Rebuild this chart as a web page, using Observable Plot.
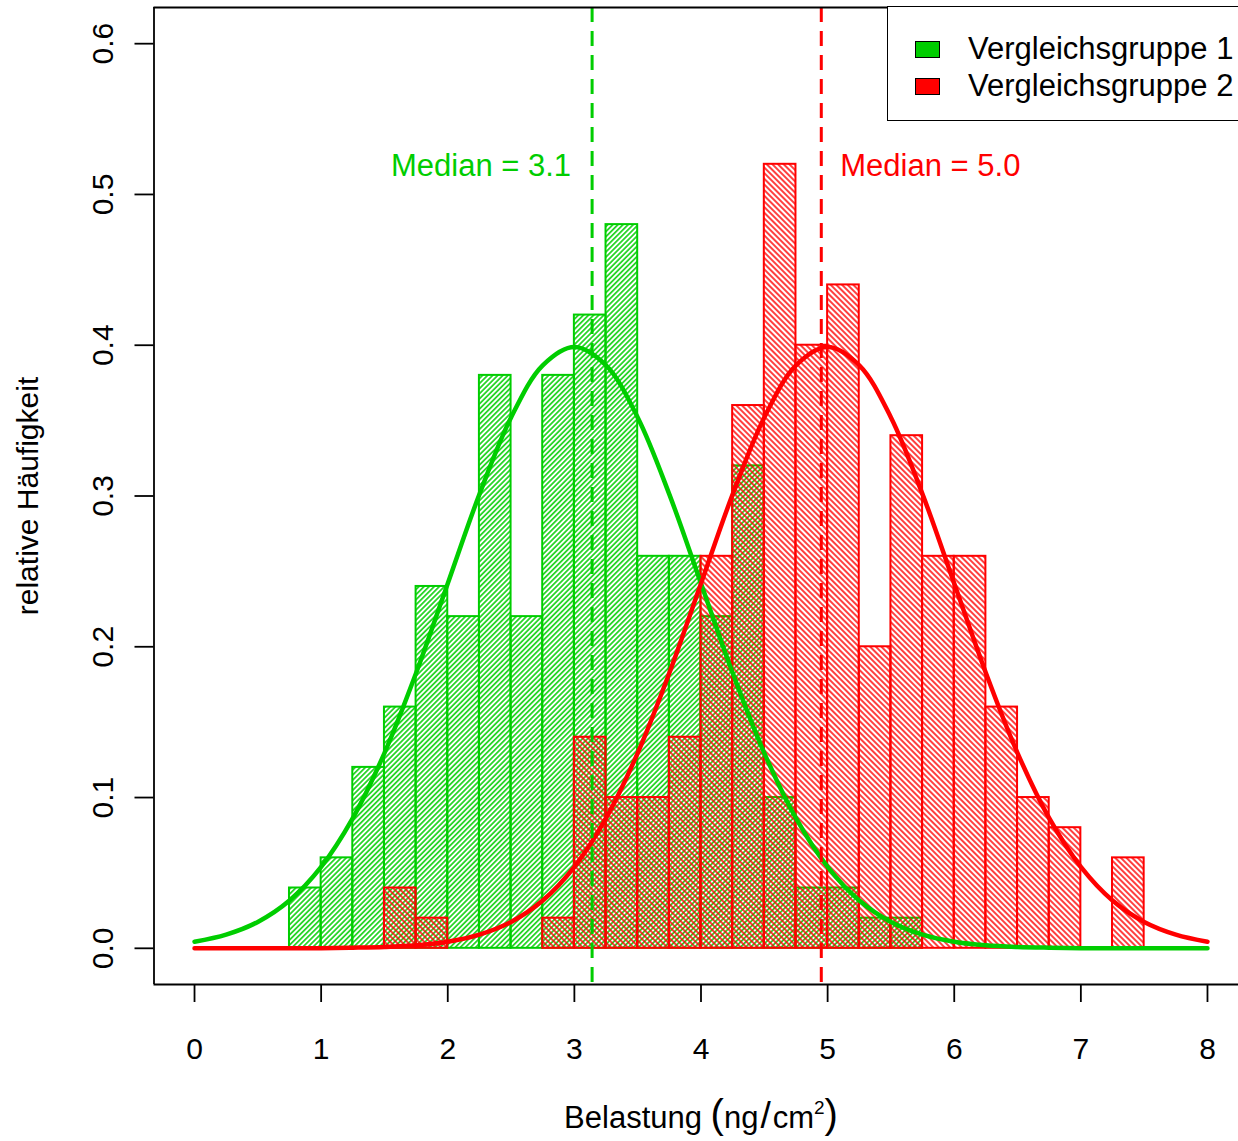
<!DOCTYPE html>
<html><head><meta charset="utf-8">
<script src="https://cdn.jsdelivr.net/npm/d3@7"></script>
<script src="https://cdn.jsdelivr.net/npm/@observablehq/plot@0.6"></script>
<style>
body{margin:0;background:#fff;overflow:hidden}
#wrap{position:relative;width:1238px;height:1141px;overflow:hidden;font-family:"Liberation Sans",Arial,Helvetica,sans-serif;background:#fff}
#legend{position:absolute;left:887px;top:6px;width:420px;height:115px;border:1.8px solid #000;box-sizing:border-box;background:#fff}
.item{position:absolute;left:27px;font-size:31px;line-height:30px;height:30px;display:flex;align-items:center;white-space:nowrap;color:#000}
.sw{width:25px;height:17px;border:1px solid #000;margin-right:28px;box-sizing:border-box}
</style></head>
<body><div id="wrap"><div id="chart"></div>
<div id="legend">
<div class="item" style="top:27px"><span class="sw" style="background:#00CD00"></span>Vergleichsgruppe 1</div>
<div class="item" style="top:64px"><span class="sw" style="background:#FF0000"></span>Vergleichsgruppe 2</div>
</div></div>
<script>
const GREEN = "#00CD00", RED = "#FF0000";
const binWidth = 0.25;
const greenX1 = [0.75,1,1.25,1.5,1.75,2,2.25,2.5,2.75,3,3.25,3.5,3.75,4,4.25,4.5,4.75,5,5.25,5.5];
const greenDensity = [0.04,0.06,0.12,0.16,0.24,0.22,0.38,0.22,0.38,0.42,0.48,0.26,0.26,0.22,0.32,0.10,0.04,0.04,0.02,0.02];
const redX1 = [1.5,1.75,2,2.25,2.5,2.75,3,3.25,3.5,3.75,4,4.25,4.5,4.75,5,5.25,5.5,5.75,6,6.25,6.5,6.75,7,7.25];
const redDensity = [0.04,0.02,0,0,0,0.02,0.14,0.10,0.10,0.14,0.26,0.36,0.52,0.40,0.44,0.20,0.34,0.26,0.26,0.16,0.10,0.08,0,0.06];
const curveX = [0,0.25,0.5,0.75,1,1.25,1.5,1.75,2,2.25,2.5,2.75,3,3.25,3.5,3.75,4,4.25,4.5,4.75,5,5.25,5.5,5.75,6,6.25,6.5,6.75,7,7.25,7.5,7.75,8];
const greenCurve = [0.0044,0.0091,0.0175,0.0317,0.0540,0.0863,0.1295,0.1826,0.2420,0.3011,0.3521,0.3867,0.3989,0.3867,0.3521,0.3011,0.2420,0.1826,0.1295,0.0863,0.0540,0.0317,0.0175,0.0091,0.0044,0.0020,0.0009,0.0004,0.0001,0,0,0,0];
const redCurve = [0,0,0,0,0.0001,0.0004,0.0009,0.0020,0.0044,0.0091,0.0175,0.0317,0.0540,0.0863,0.1295,0.1826,0.2420,0.3011,0.3521,0.3867,0.3989,0.3867,0.3521,0.3011,0.2420,0.1826,0.1295,0.0863,0.0540,0.0317,0.0175,0.0091,0.0044];
const medians = [3.14, 4.95];
const medianLabels = ["Median = 3.1", "Median = 5.0"];
const xTicks = [0,1,2,3,4,5,6,7,8];
const yTicks = [0,0.1,0.2,0.3,0.4,0.5,0.6];

const greenBars = greenX1.map((x, i) => ({x1: x, x2: x + binWidth, d: greenDensity[i]}));
const redBars = redX1.map((x, i) => ({x1: x, x2: x + binWidth, d: redDensity[i]}));
const gCurve = curveX.map((x, i) => ({x, y: greenCurve[i]}));
const rCurve = curveX.map((x, i) => ({x, y: redCurve[i]}));
const FONT = "Liberation Sans, Arial, Helvetica, sans-serif";

const svg = Plot.plot({
  width: 1238, height: 1141,
  marginLeft: 153.5, marginRight: 0, marginTop: 7, marginBottom: 157,
  style: {fontFamily: FONT, fontSize: "30px", background: "white", color: "black"},
  x: {domain: [-0.32, 8.245], axis: null},
  y: {domain: [-0.024, 0.624], axis: null},
  marks: [
    Plot.rectY(greenBars, {x1: "x1", x2: "x2", y: "d", fill: "url(#hatchG)", stroke: GREEN, strokeWidth: 2}),
    Plot.rectY(redBars, {x1: "x1", x2: "x2", y: "d", fill: "url(#hatchR)", stroke: RED, strokeWidth: 2}),
    Plot.line(gCurve, {x: "x", y: "y", stroke: GREEN, strokeWidth: 4.5, curve: "catmull-rom"}),
    Plot.line(rCurve, {x: "x", y: "y", stroke: RED, strokeWidth: 4.5, curve: "catmull-rom"}),
    Plot.ruleX([medians[0]], {stroke: GREEN, strokeWidth: 3, strokeDasharray: "15,9"}),
    Plot.ruleX([medians[1]], {stroke: RED, strokeWidth: 3, strokeDasharray: "15,9"}),
    Plot.text([0], {x: () => medians[0], y: () => 0.52, text: () => medianLabels[0], fill: GREEN, fontSize: 31, textAnchor: "end", dx: -21, dy: 2}),
    Plot.text([0], {x: () => medians[1], y: () => 0.52, text: () => medianLabels[1], fill: RED, fontSize: 31, textAnchor: "start", dx: 19, dy: 2}),
    Plot.ruleY([-0.024, 0.624], {stroke: "black", strokeWidth: 1.8}),
    Plot.ruleX([-0.32], {stroke: "black", strokeWidth: 1.8}),
    Plot.axisX({ticks: xTicks, tickSize: 18, tickPadding: 35, fontSize: 30, strokeWidth: 1.8, label: null, tickFormat: d => String(d)}),
    Plot.axisY({ticks: yTicks, tickSize: 19, tickRotate: -90, textAnchor: "middle", lineAnchor: "middle", tickPadding: 32, fontSize: 30, strokeWidth: 1.8, label: null, tickFormat: d3.format(".1f")}),
    Plot.text(["relative Häufigkeit"], {frameAnchor: "left", textAnchor: "middle", dx: -126, rotate: -90, fontSize: 30, text: d => d}),
    Plot.text(["Belastung (ng/cm²)"], {x: () => 4, frameAnchor: "bottom", textAnchor: "middle", dy: 143, fontSize: 31, text: d => d})
  ]
});

const s = d3.select(svg);
const defs = s.insert("defs", ":first-child");
function hatch(id, color, angle, spacing, w) {
  const p = defs.append("pattern").attr("id", id).attr("patternUnits", "userSpaceOnUse")
    .attr("width", spacing).attr("height", spacing).attr("patternTransform", `rotate(${angle})`);
  p.append("line").attr("x1", spacing / 2).attr("y1", -1).attr("x2", spacing / 2).attr("y2", spacing + 1)
    .attr("stroke", color).attr("stroke-width", w);
}
hatch("hatchG", GREEN, 45, 3.6, 1.5);
hatch("hatchR", RED, -45, 4.0, 1.5);

s.selectAll("text").each(function() {
  if (this.textContent === "Belastung (ng/cm²)") {
    const t = d3.select(this);
    t.text(null);
    t.append("tspan").text("Belastung ");
    t.append("tspan").attr("font-size", 40).text("(");
    t.append("tspan").text("ng");
    t.append("tspan").attr("font-size", 37).attr("dx", 2).text("/");
    t.append("tspan").attr("dx", 2).text("cm");
    t.append("tspan").attr("font-size", 19).attr("dy", -14).text("2");
    t.append("tspan").attr("font-size", 40).attr("dy", 14).text(")");
  }
});

document.getElementById("chart").appendChild(svg);
</script></body></html>
